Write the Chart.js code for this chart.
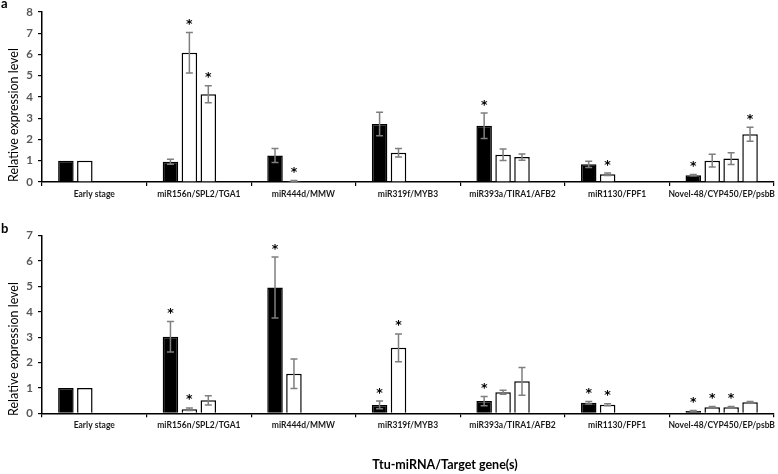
<!DOCTYPE html>
<html>
<head>
<meta charset="utf-8">
<script src="https://cdn.jsdelivr.net/npm/chart.js@4.4.1/dist/chart.umd.min.js"></script>
<style>
  html, body { margin: 0; padding: 0; background: #fff; }
  #wrapA { position: absolute; left: 0; top: 0; width: 778px; height: 210px; }
  #wrapB { position: absolute; left: 0; top: 210px; width: 778px; height: 264px; }
</style>
</head>
<body>
<div id="wrapA"><canvas id="chartA" width="778" height="210"></canvas></div>
<div id="wrapB"><canvas id="chartB" width="778" height="264"></canvas></div>
<script>
// ---------- DATA ----------
const categories = ['Early stage', 'miR156n/SPL2/TGA1', 'miR444d/MMW', 'miR319f/MYB3',
  'miR393a/TIRA1/AFB2', 'miR1130/FPF1', 'Novel-48/CYP450/EP/psbB'];

const yTicksA = [0, 1, 2, 3, 4, 5, 6, 7, 8];
const yTicksB = [0, 1, 2, 3, 4, 5, 6, 7];

// Panel a: miRNA (black) and target genes (white, up to 3)
const aMiRNA   = [1, 0.95, 1.25, 2.73, 2.64, 0.83, 0.32];
const aTarget1 = [1, 6.08, 0.05, 1.38, 1.28, 0.36, 1.00];
const aTarget2 = [null, 4.13, null, null, 1.17, null, 1.10];
const aTarget3 = [null, null, null, null, null, null, 2.25];
const aErrMiRNA   = [0, 0.12, 0.33, 0.55, 0.60, 0.15, 0.03];
const aErrTarget1 = [0, 0.95, 0.02, 0.20, 0.27, 0.06, 0.30];
const aErrTarget2 = [0, 0.40, 0, 0, 0.15, 0, 0.28];
const aErrTarget3 = [0, 0, 0, 0, 0, 0, 0.33];
const aSigMiRNA   = [0, 0, 0, 0, 1, 0, 1];
const aSigTarget1 = [0, 1, 1, 0, 0, 1, 0];
const aSigTarget2 = [0, 1, 0, 0, 0, 0, 0];
const aSigTarget3 = [0, 0, 0, 0, 0, 0, 1];

// Panel b
const bMiRNA   = [1, 3.02, 4.96, 0.33, 0.48, 0.42, 0.09];
const bTarget1 = [1, 0.16, 1.56, 2.58, 0.83, 0.34, 0.24];
const bTarget2 = [null, 0.51, null, null, 1.26, null, 0.24];
const bTarget3 = [null, null, null, null, null, null, 0.44];
const bErrMiRNA   = [0, 0.60, 1.20, 0.15, 0.18, 0.05, 0.02];
const bErrTarget1 = [0, 0.05, 0.58, 0.55, 0.08, 0.04, 0.03];
const bErrTarget2 = [0, 0.18, 0, 0, 0.55, 0, 0.03];
const bErrTarget3 = [0, 0, 0, 0, 0, 0, 0.03];
const bSigMiRNA   = [0, 1, 1, 1, 1, 1, 1];
const bSigTarget1 = [0, 1, 0, 1, 0, 1, 1];
const bSigTarget2 = [0, 0, 0, 0, 0, 0, 1];
const bSigTarget3 = [0, 0, 0, 0, 0, 0, 0];

// ---------- HELPERS ----------
const FONT = 'Lato, "Open Sans", sans-serif';

function mkDataset(values, errs, sigs, dark) {
  return {
    data: values, errors: errs, sig: sigs,
    backgroundColor: dark ? '#000000' : '#ffffff',
    borderColor: '#000000',
    borderWidth: 1.5,
    categoryPercentage: 0.724,
    barPercentage: 0.82
  };
}

const errorBarPlugin = {
  id: 'errorBars',
  afterDatasetsDraw(chart) {
    const ctx = chart.ctx;
    const y = chart.scales.y;
    ctx.save();
    // size the asterisk so it is ~7px wide
    ctx.font = 'bold 10px "DejaVu Sans"';
    const m10 = ctx.measureText('*');
    const w10 = (m10.actualBoundingBoxRight + m10.actualBoundingBoxLeft) || 5;
    const starSize = 10 * 7.5 / w10;
    chart.data.datasets.forEach((ds, i) => {
      const meta = chart.getDatasetMeta(i);
      ds.data.forEach((v, j) => {
        if (v === null || v === undefined) return;
        const bar = meta.data[j];
        const e = ds.errors[j] || 0;
        const x = bar.x;
        let top = y.getPixelForValue(v);
        if (e > 0) {
          const yT = y.getPixelForValue(v + e);
          const yB = y.getPixelForValue(Math.max(v - e, 0));
          ctx.strokeStyle = '#7f7f7f';
          ctx.lineWidth = 1.5;
          ctx.beginPath();
          ctx.moveTo(x, yT); ctx.lineTo(x, yB);
          ctx.moveTo(x - 3.5, yT); ctx.lineTo(x + 3.5, yT);
          ctx.moveTo(x - 3.5, yB); ctx.lineTo(x + 3.5, yB);
          ctx.stroke();
          top = yT;
        }
        if (ds.sig[j]) {
          ctx.fillStyle = '#000';
          ctx.font = 'bold ' + starSize.toFixed(1) + 'px "DejaVu Sans"';
          ctx.textAlign = 'center';
          ctx.textBaseline = 'alphabetic';
          const m = ctx.measureText('*');
          const midOff = (m.actualBoundingBoxDescent - m.actualBoundingBoxAscent) / 2;
          const centerY = top - 10.5;
          ctx.fillText('*', x, centerY - midOff);
        }
      });
    });
    ctx.restore();
  }
};

function textPlugin(letter, letterY, yTitleY, extra) {
  return {
    id: 'texts',
    afterDraw(chart) {
      const ctx = chart.ctx;
      ctx.save();
      ctx.fillStyle = '#000';
      ctx.font = 'bold 13px ' + FONT;
      ctx.textAlign = 'left';
      ctx.textBaseline = 'middle';
      ctx.fillText(letter, 1, letterY);
      ctx.save();
      ctx.translate(14, yTitleY);
      ctx.rotate(-Math.PI / 2);
      ctx.font = '12.5px ' + FONT;
      ctx.textAlign = 'center';
      ctx.textBaseline = 'middle';
      ctx.fillText('Relative expression level', 0, 0);
      ctx.restore();
      if (extra) extra(ctx);
      ctx.restore();
    }
  };
}

function makeChart(canvasId, sets, yMax, yTicks, topPad, xHeight, plugin) {
  return new Chart(document.getElementById(canvasId), {
    type: 'bar',
    data: { labels: categories, datasets: sets },
    options: {
      responsive: false,
      animation: false,
      layout: { padding: { left: 0, right: 1, top: topPad, bottom: 0 } },
      plugins: { legend: { display: false }, tooltip: { enabled: false } },
      scales: {
        x: {
          offset: true,
          grid: { display: true, drawOnChartArea: false, drawTicks: true, tickLength: 4, color: '#000', lineWidth: 1.2, offset: true },
          border: { display: true, color: '#000', width: 1.5 },
          ticks: { color: '#1a1a1a', font: { family: FONT, size: 8.5, weight: 'bold' }, padding: 3, maxRotation: 0, autoSkip: false },
          afterFit(s) { s.height = xHeight; }
        },
        y: {
          min: 0, max: yMax,
          afterBuildTicks(s) { s.ticks = yTicks.map(v => ({ value: v })); },
          grid: { display: true, drawOnChartArea: false, drawTicks: true, tickLength: 4, color: '#000', lineWidth: 1.2 },
          border: { display: true, color: '#000', width: 1.5 },
          ticks: { color: '#595959', font: { family: FONT, size: 11.5, weight: 'bold' }, padding: 5 },
          afterFit(s) { s.width = 42; }
        }
      }
    },
    plugins: [errorBarPlugin, plugin]
  });
}

makeChart('chartA', [
  mkDataset(aMiRNA, aErrMiRNA, aSigMiRNA, true),
  mkDataset(aTarget1, aErrTarget1, aSigTarget1, false),
  mkDataset(aTarget2, aErrTarget2, aSigTarget2, false),
  mkDataset(aTarget3, aErrTarget3, aSigTarget3, false)
], 8, yTicksA, 4, 28, textPlugin('a', 4, 115));

makeChart('chartB', [
  mkDataset(bMiRNA, bErrMiRNA, bSigMiRNA, true),
  mkDataset(bTarget1, bErrTarget1, bSigTarget1, false),
  mkDataset(bTarget2, bErrTarget2, bSigTarget2, false),
  mkDataset(bTarget3, bErrTarget3, bSigTarget3, false)
], 7, yTicksB, 25.7, 60.7, textPlugin('b', 18.5, 139, (ctx) => {
  ctx.font = 'bold 12.5px ' + FONT;
  ctx.textAlign = 'center';
  ctx.textBaseline = 'middle';
  ctx.fillStyle = '#000';
  ctx.fillText('Ttu-miRNA/Target gene(s)', 445, 255);
}));
</script>
</body>
</html>
